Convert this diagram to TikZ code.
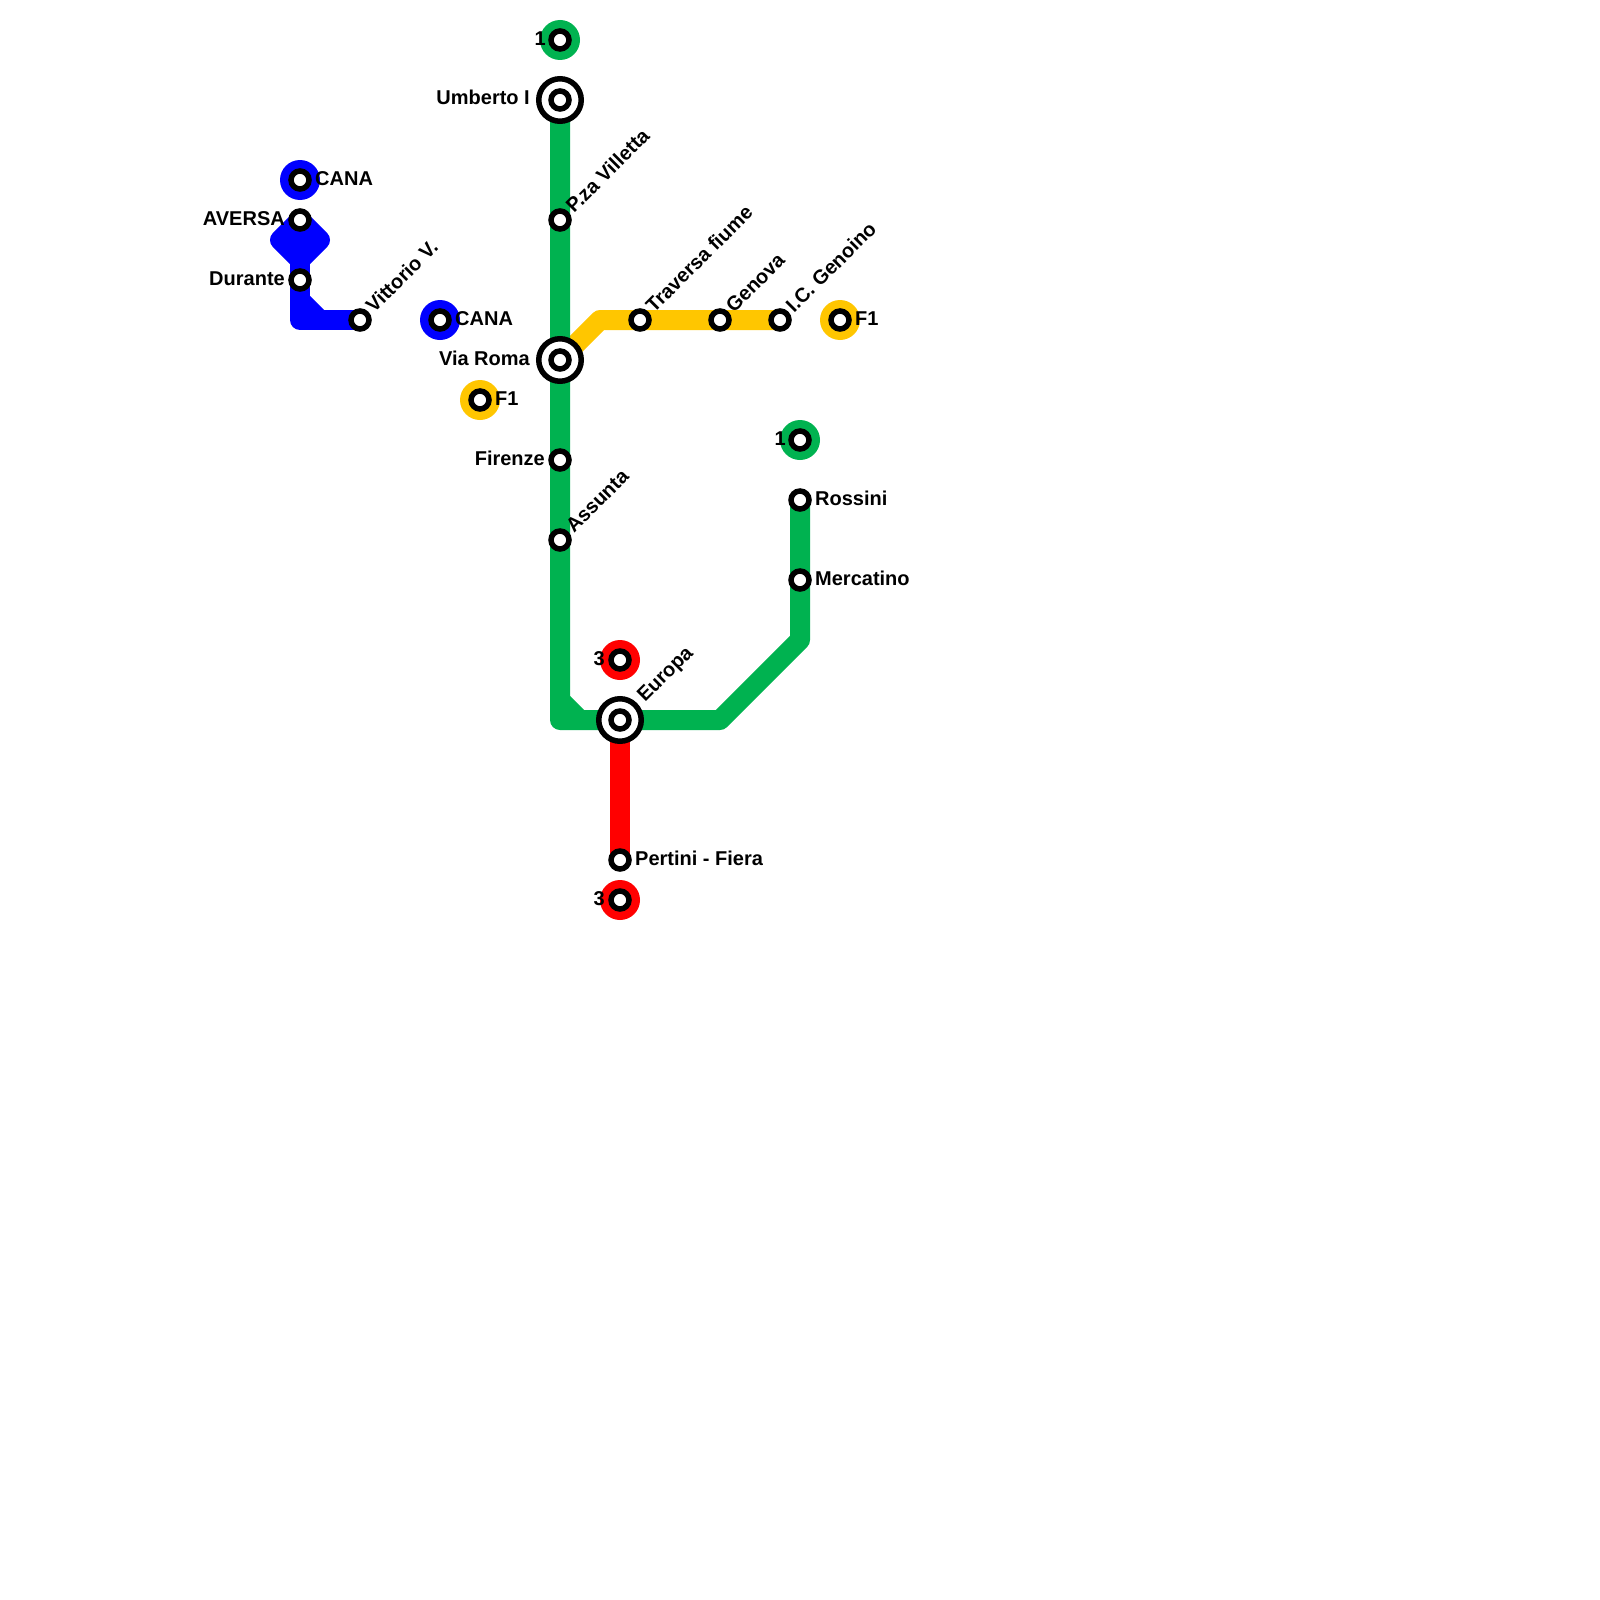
\documentclass[tikz,border=0pt]{standalone}
\usepackage{fontspec}
\setmainfont{Liberation Sans}
\usetikzlibrary{backgrounds}
\definecolor{lgreen}{RGB}{0,178,80}
\definecolor{lyellow}{RGB}{255,198,0}
\definecolor{lred}{RGB}{255,0,0}
\definecolor{lblue}{RGB}{0,0,255}
\tikzset{
  x=1pt,y=-1pt,
  stn/.style={circle,draw=black,fill=white,line width=5.5pt,minimum size=18pt,inner sep=0pt},
  hub/.style={circle,draw=black,fill=white,line width=5.5pt,minimum size=42.5pt,inner sep=0pt},
  term/.style={circle,fill=#1,minimum size=40pt,inner sep=0pt},
  track/.style={draw=#1,line width=20pt,line join=round,line cap=butt},
  lab/.style={font=\bfseries\fontsize{20}{22}\selectfont,inner sep=0pt,text=black},
  labr/.style={lab,anchor=base west},
  labl/.style={lab,anchor=base east},
  labd/.style={lab,anchor=base west,rotate=45},
}
\begin{document}
\begin{tikzpicture}
\useasboundingbox (0,0) rectangle (1600,1600);
% green line
\node[hub] (umbH) at (560,100) {};
\node[stn] (umb) at (560,100) {};
\node[stn] (vil) at (560,220) {};
\node[hub] (romaH) at (560,360) {};
\node[stn] (roma) at (560,360) {};
\node[stn] (fir) at (560,460) {};
\node[stn] (ass) at (560,540) {};
\node[hub] (eurH) at (620,720) {};
\node[stn] (eur) at (620,720) {};
\node[stn] (mer) at (800,580) {};
\node[stn] (ros) at (800,500) {};
\coordinate (gc1) at (560,720);
\coordinate (gc1a) at (560,700);
\coordinate (gc1b) at (580,720);
\coordinate (gc2) at (720,720);
\coordinate (gc3) at (800,640);
% terminals
\node[term=lgreen] (t1a) at (560,40) {};
\node[stn] (t1as) at (560,40) {};
\node[term=lgreen] (t1b) at (800,440) {};
\node[stn] (t1bs) at (800,440) {};
\node[term=lred] (t3a) at (620,660) {};
\node[stn] (t3as) at (620,660) {};
\node[term=lred] (t3b) at (620,900) {};
\node[stn] (t3bs) at (620,900) {};
\node[term=lyellow] (f1a) at (480,400) {};
\node[stn] (f1as) at (480,400) {};
\node[term=lyellow] (f1b) at (840,320) {};
\node[stn] (f1bs) at (840,320) {};
\node[term=lblue] (ca) at (300,180) {};
\node[stn] (cas) at (300,180) {};
\node[term=lblue] (cb) at (440,320) {};
\node[stn] (cbs) at (440,320) {};
% yellow, red
\node[stn] (tra) at (640,320) {};
\node[stn] (gen) at (720,320) {};
\node[stn] (ic) at (780,320) {};
\coordinate (yc) at (600,320);
\node[stn] (per) at (620,860) {};
% blue
\node[stn] (ave) at (300,220) {};
\node[stn] (dur) at (300,280) {};
\node[stn] (vit) at (360,320) {};
\coordinate (bc) at (300,320);
\coordinate (bca) at (300,300);
\coordinate (bcb) at (320,320);
\coordinate (dl) at (280,240);
\coordinate (db) at (300,260);
\coordinate (dr) at (320,240);
% labels
\node[labl] (l1) at (546,46) {1};
\node[labl] (l2) at (530,105) {Umberto I};
\node[labd] (l3) at (574,214) {P.za Villetta};
\node[labl] (l4) at (530,365) {Via Roma};
\node[labl] (l5) at (545,465) {Firenze};
\node[labd] (l6) at (574,534) {Assunta};
\node[labd] (l7) at (654,314) {Traversa fiume};
\node[labd] (l8) at (734,314) {Genova};
\node[labd] (l9) at (794,314) {I.C. Genoino};
\node[labr] (l10) at (855,325) {F1};
\node[labr] (l11) at (495,405) {F1};
\node[labr] (l12) at (315,185) {CANA};
\node[labr] (l13) at (455,325) {CANA};
\node[labl] (l14) at (285,225) {AVERSA};
\node[labl] (l15) at (285,285) {Durante};
\node[labd] (l16) at (374,314) {Vittorio V.};
\node[labl] (l17) at (605,665) {3};
\node[labl] (l18) at (605,905) {3};
\node[labd] (l19) at (645,703) {Europa};
\node[labr] (l20) at (635,865) {Pertini - Fiera};
\node[labr] (l21) at (815,505) {Rossini};
\node[labr] (l22) at (815,585) {Mercatino};
\node[labl] (l23) at (786,445) {1};
\begin{scope}[on background layer]
\draw[track=lyellow] (roma.center) -- (yc) -- (ic.center);
\draw[track=lgreen] (umb.center) -- (vil.center) -- (roma.center) -- (fir.center) -- (ass.center) -- (gc1) -- (eur.center) -- (gc2) -- (gc3) -- (mer.center) -- (ros.center);
\fill[lgreen] (gc1a) -- (gc1b) -- (gc1) -- cycle;
\draw[track=lgreen,line cap=butt] (gc1a) -- (gc1b);
\draw[track=lred] (eur.center) -- (per.center);
\draw[track=lblue] (ave.center) -- (dl) -- (db) -- (dr) -- cycle;
\fill[lblue] (ave.center) -- (dl) -- (db) -- (dr) -- cycle;
\draw[track=lblue] (db) -- (dur.center) -- (bc) -- (vit.center);
\draw[track=lblue] (bca) -- (bcb);
\end{scope}
\end{tikzpicture}
\end{document}
